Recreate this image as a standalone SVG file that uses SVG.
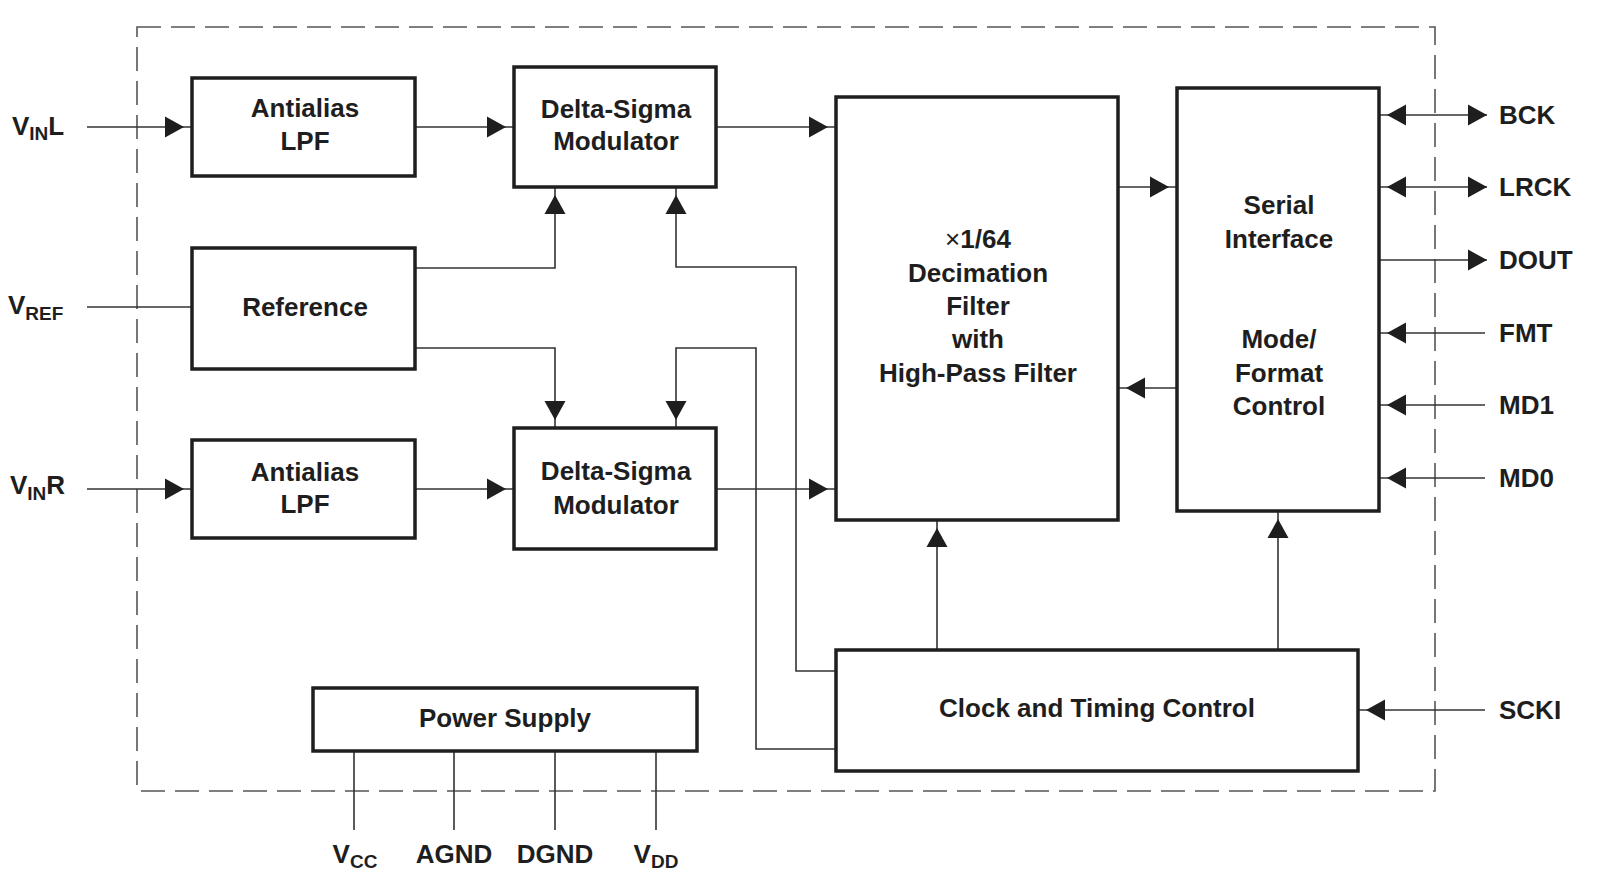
<svg xmlns="http://www.w3.org/2000/svg" width="1603" height="879" viewBox="0 0 1603 879">
<style>
.box{fill:#fff;stroke:#1e1e1e;stroke-width:3.5}
.ln{fill:none;stroke:#333;stroke-width:1.6}
.bd{fill:none;stroke:#555;stroke-width:1.6;stroke-dasharray:24 10}
text{font-family:"Liberation Sans",Arial,sans-serif;font-weight:bold;font-size:26px;fill:#1e1e1e}
.c{text-anchor:middle}
.s{font-size:19px}
</style>
<defs>
<marker id="arr" markerUnits="userSpaceOnUse" markerWidth="28" markerHeight="22" viewBox="0 0 28 22" refX="27" refY="10.5" orient="auto-start-reverse" overflow="visible">
<path d="M0,0 L19,10.5 L0,21 Z" fill="#1e1e1e"/>
</marker>
<marker id="arrE" markerUnits="userSpaceOnUse" markerWidth="20" markerHeight="22" viewBox="0 0 20 22" refX="19" refY="10.5" orient="auto" overflow="visible">
<path d="M0,0 L19,10.5 L0,21 Z" fill="#1e1e1e"/>
</marker>
</defs>
<rect x="0" y="0" width="1603" height="879" fill="#fff"/>
<rect id="boundary" class="bd" x="137" y="27" width="1298" height="764"/>

<g id="connectors">
<path class="ln" d="M87,127 H192" marker-end="url(#arr)"/>
<path class="ln" d="M415,127 H514" marker-end="url(#arr)"/>
<path class="ln" d="M716,127 H836" marker-end="url(#arr)"/>
<path class="ln" d="M87,307 H192"/>
<path class="ln" d="M415,268 H555 V187" marker-end="url(#arr)"/>
<path class="ln" d="M415,348 H555 V428" marker-end="url(#arr)"/>
<path class="ln" d="M836,671 H796 V267 H676 V187" marker-end="url(#arr)"/>
<path class="ln" d="M836,749 H756 V348 H676 V428" marker-end="url(#arr)"/>
<path class="ln" d="M87,489 H192" marker-end="url(#arr)"/>
<path class="ln" d="M415,489 H514" marker-end="url(#arr)"/>
<path class="ln" d="M716,489 H836" marker-end="url(#arr)"/>
<path class="ln" d="M1118,187 H1177" marker-end="url(#arr)"/>
<path class="ln" d="M1177,388 H1118" marker-end="url(#arr)"/>
<path class="ln" d="M937,650 V520" marker-end="url(#arr)"/>
<path class="ln" d="M1278,650 V511" marker-end="url(#arr)"/>
<path class="ln" d="M1379,115 H1487" marker-start="url(#arr)" marker-end="url(#arrE)"/>
<path class="ln" d="M1379,187 H1487" marker-start="url(#arr)" marker-end="url(#arrE)"/>
<path class="ln" d="M1379,260 H1487" marker-end="url(#arrE)"/>
<path class="ln" d="M1485,333 H1379" marker-end="url(#arr)"/>
<path class="ln" d="M1485,405 H1379" marker-end="url(#arr)"/>
<path class="ln" d="M1485,478 H1379" marker-end="url(#arr)"/>
<path class="ln" d="M1485,710 H1358" marker-end="url(#arr)"/>
<path class="ln" d="M354,751 V830 M454,751 V830 M555,751 V830 M656,751 V830"/>
</g>

<g id="lpf-l">
<rect class="box" x="192" y="78" width="223" height="98"/>
<text class="c" x="305" y="117">Antialias</text>
<text class="c" x="305" y="150">LPF</text>
</g>
<g id="reference">
<rect class="box" x="192" y="248" width="223" height="121"/>
<text class="c" x="305" y="316">Reference</text>
</g>
<g id="lpf-r">
<rect class="box" x="192" y="440" width="223" height="98"/>
<text class="c" x="305" y="481">Antialias</text>
<text class="c" x="305" y="513">LPF</text>
</g>
<g id="dsm-l">
<rect class="box" x="514" y="67" width="202" height="120"/>
<text class="c" x="616" y="118">Delta-Sigma</text>
<text class="c" x="616" y="150">Modulator</text>
</g>
<g id="dsm-r">
<rect class="box" x="514" y="428" width="202" height="121"/>
<text class="c" x="616" y="480">Delta-Sigma</text>
<text class="c" x="616" y="514">Modulator</text>
</g>
<g id="decimation">
<rect class="box" x="836" y="97" width="282" height="423"/>
<text class="c" x="978" y="248"><tspan font-weight="normal">×</tspan>1/64</text>
<text class="c" x="978" y="282">Decimation</text>
<text class="c" x="978" y="315">Filter</text>
<text class="c" x="978" y="348">with</text>
<text class="c" x="978" y="382">High-Pass Filter</text>
</g>
<g id="serial">
<rect class="box" x="1177" y="88" width="202" height="423"/>
<text class="c" x="1279" y="214">Serial</text>
<text class="c" x="1279" y="248">Interface</text>
<text class="c" x="1279" y="348">Mode/</text>
<text class="c" x="1279" y="382">Format</text>
<text class="c" x="1279" y="415">Control</text>
</g>
<g id="clock">
<rect class="box" x="836" y="650" width="522" height="121"/>
<text class="c" x="1097" y="717">Clock and Timing Control</text>
</g>
<g id="power">
<rect class="box" x="313" y="688" width="384" height="63"/>
<text class="c" x="505" y="727">Power Supply</text>
</g>

<g id="labels">
<text x="12" y="135">V<tspan class="s" dy="5">IN</tspan><tspan dy="-5">L</tspan></text>
<text x="8" y="314">V<tspan class="s" dy="6">REF</tspan></text>
<text x="10" y="494">V<tspan class="s" dy="6">IN</tspan><tspan dy="-6">R</tspan></text>
<text x="1499" y="124">BCK</text>
<text x="1499" y="196">LRCK</text>
<text x="1499" y="269">DOUT</text>
<text x="1499" y="342">FMT</text>
<text x="1499" y="414">MD1</text>
<text x="1499" y="487">MD0</text>
<text x="1499" y="719">SCKI</text>
<text class="c" x="355" y="863">V<tspan class="s" dy="5">CC</tspan></text>
<text class="c" x="454" y="863">AGND</text>
<text class="c" x="555" y="863">DGND</text>
<text class="c" x="656" y="863">V<tspan class="s" dy="5">DD</tspan></text>
</g>
</svg>
